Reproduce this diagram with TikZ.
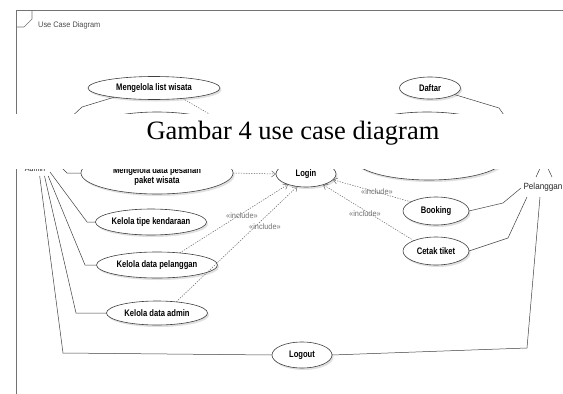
\documentclass[tikz,border=0pt]{standalone}
\usepackage{fontspec}
\setmainfont{Liberation Sans}
\newfontfamily\ucfont[FakeStretch=0.8]{Liberation Sans Bold}
\newfontfamily\lblfont[FakeStretch=0.92]{Liberation Sans}
\newfontfamily\actfont[FakeStretch=0.9]{Liberation Sans}
\newfontfamily\capfont{Liberation Serif}
\usetikzlibrary{shapes.geometric,shadows,arrows.meta}

\begin{document}
\begin{tikzpicture}[x=1pt,y=-1pt,
  usecase/.style={ellipse, draw=black!75, line width=0.6pt, fill=white,
    inner sep=0pt, outer sep=0pt, align=center,
    font=\ucfont\fontsize{9.5}{10.5}\selectfont,
    drop shadow={shadow xshift=1.5pt, shadow yshift=-2pt, fill=black!12, opacity=1}},
  uctext/.style={font=\ucfont\fontsize{9.5}{10.5}\selectfont, align=center, inner sep=0pt},
  assoc/.style={draw=black!75, line width=0.5pt},
  incl/.style={draw=black!60, line width=0.5pt, dash pattern=on 1.3pt off 1.3pt,
    -{Straight Barb[length=4pt,width=6pt]}},
  incllabel/.style={font=\lblfont\fontsize{8}{9}\selectfont, text=black!55, inner sep=0pt},
  actorlabel/.style={font=\actfont\fontsize{9}{10}\selectfont, text=black!85, inner sep=0pt},
  frameline/.style={draw=black!55, line width=0.6pt},
]
\useasboundingbox (0,0) rectangle (563,394);
\fill[white] (0,0) rectangle (563,394);

% diagram frame with its name tag
\draw[frameline] (563,10) -- (16,10) -- (16,394);
\draw[frameline] (16,27) -- (24,27) -- (32,19) -- (32,10);
\node[anchor=west, inner sep=0pt, text=black!70,
  font=\lblfont\fontsize{8}{9}\selectfont] (title) at (38,25) {Use Case Diagram};

% ---- upper use cases ----
\coordinate (admTop) at (50,137);
\coordinate (plgTop) at (525,145);
\node[usecase, minimum width=132pt, minimum height=23pt] (listw) at (154,88) {Mengelola list wisata};
\node[usecase, minimum width=61pt, minimum height=22pt] (daftar) at (430,88) {Daftar};
\node[usecase, minimum width=151pt, minimum height=46pt] (ucLeftTop) at (157,135) {};
\node[usecase, minimum width=150pt, minimum height=46pt] (ucRightTop) at (427,135) {};

\draw[assoc] (listw.193) -- (82,107) -- (admTop);
\draw[assoc] (daftar.345) -- (499,108) -- (plgTop);

% ---- lower use cases ----
\node[actorlabel, font=\actfont\fontsize{8}{9}\selectfont, anchor=base] (admin) at (35,171.5) {Admin};
\coordinate (adm1) at (50,172);
\coordinate (adm2) at (39.7,176);
\coordinate (adm3) at (44.5,176);
\coordinate (adm4) at (48.2,176);
\coordinate (adm5) at (60,166);

\node[usecase, minimum width=150pt, minimum height=43pt] (ucRightLow) at (429,158.5) {};
\node[usecase, minimum width=152pt, minimum height=42pt] (pesanan) at (157,173) {};
\node[uctext] (pesananText) at (157,176) {Mengelola data pesanan\\paket wisata};
\node[usecase, minimum width=60pt, minimum height=26pt] (login) at (306,174) {Login};
\node[usecase, minimum width=110pt, minimum height=26pt] (kt) at (151,222) {Kelola tipe kendaraan};
\node[usecase, minimum width=121pt, minimum height=26pt] (kp) at (157,265) {Kelola data pelanggan};
\node[usecase, minimum width=101pt, minimum height=24pt] (ka) at (157,313) {Kelola data admin};
\node[usecase, minimum width=60pt, minimum height=26pt] (lo) at (302,355) {Logout};
\node[usecase, minimum width=66pt, minimum height=28pt] (bk) at (436,211) {Booking};
\node[usecase, minimum width=66pt, minimum height=28pt] (ct) at (436,251) {Cetak tiket};

\node[actorlabel, anchor=east] (plg) at (562.5,187) {Pelanggan};
\coordinate (plgHip) at (544,160);
\coordinate (plgFootL) at (536,177);
\coordinate (plgFootR) at (552,177);
\draw[assoc] (plgFootL) -- (plgHip) -- (plgFootR);
\coordinate (plg1) at (521,188);
\coordinate (plg2) at (527,197);
\coordinate (plg3) at (540,197);

% admin associations
\draw[assoc] (adm1) -- (87,222) -- (kt.west);
\draw[assoc] (adm4) -- (85,265) -- (kp.west);
\draw[assoc] (adm3) -- (76,313) -- (ka.west);
\draw[assoc] (adm2) -- (63,353) -- (lo.west);
\draw[assoc] (adm5) -- (67,173) -- (pesanan.west);

% pelanggan associations
\draw[assoc] (plg1) -- (503,203) -- (bk.east);
\draw[assoc] (plg2) -- (508,238) -- (ct.east);
\draw[assoc] (plg3) -- (527,348) -- (lo.east);

% include relations
\draw[incl] (listw.340) -- (login.140);
\draw[incl] (pesanan.east) -- (login.west);
\draw[incl] (kp.28) -- (login.210);
\draw[incl] (ka.30) -- (login.235);
\draw[incl] (bk.160) -- (login.348);
\draw[incl] (ct.155) -- (login.328);

\node[incllabel] (lblKp) at (242,216) {«include»};
\node[incllabel] (lblKa) at (265,227) {«include»};
\node[incllabel] (lblBk) at (377,192) {«include»};
\node[incllabel] (lblCt) at (365,214) {«include»};

% caption strip
\fill[white] (0,114) rectangle (563,169);
\node[font=\capfont\fontsize{26.5}{30}\selectfont, anchor=base, inner sep=0pt] (caption) at (293,139.5) {Gambar 4 use case diagram};
\end{tikzpicture}
\end{document}
